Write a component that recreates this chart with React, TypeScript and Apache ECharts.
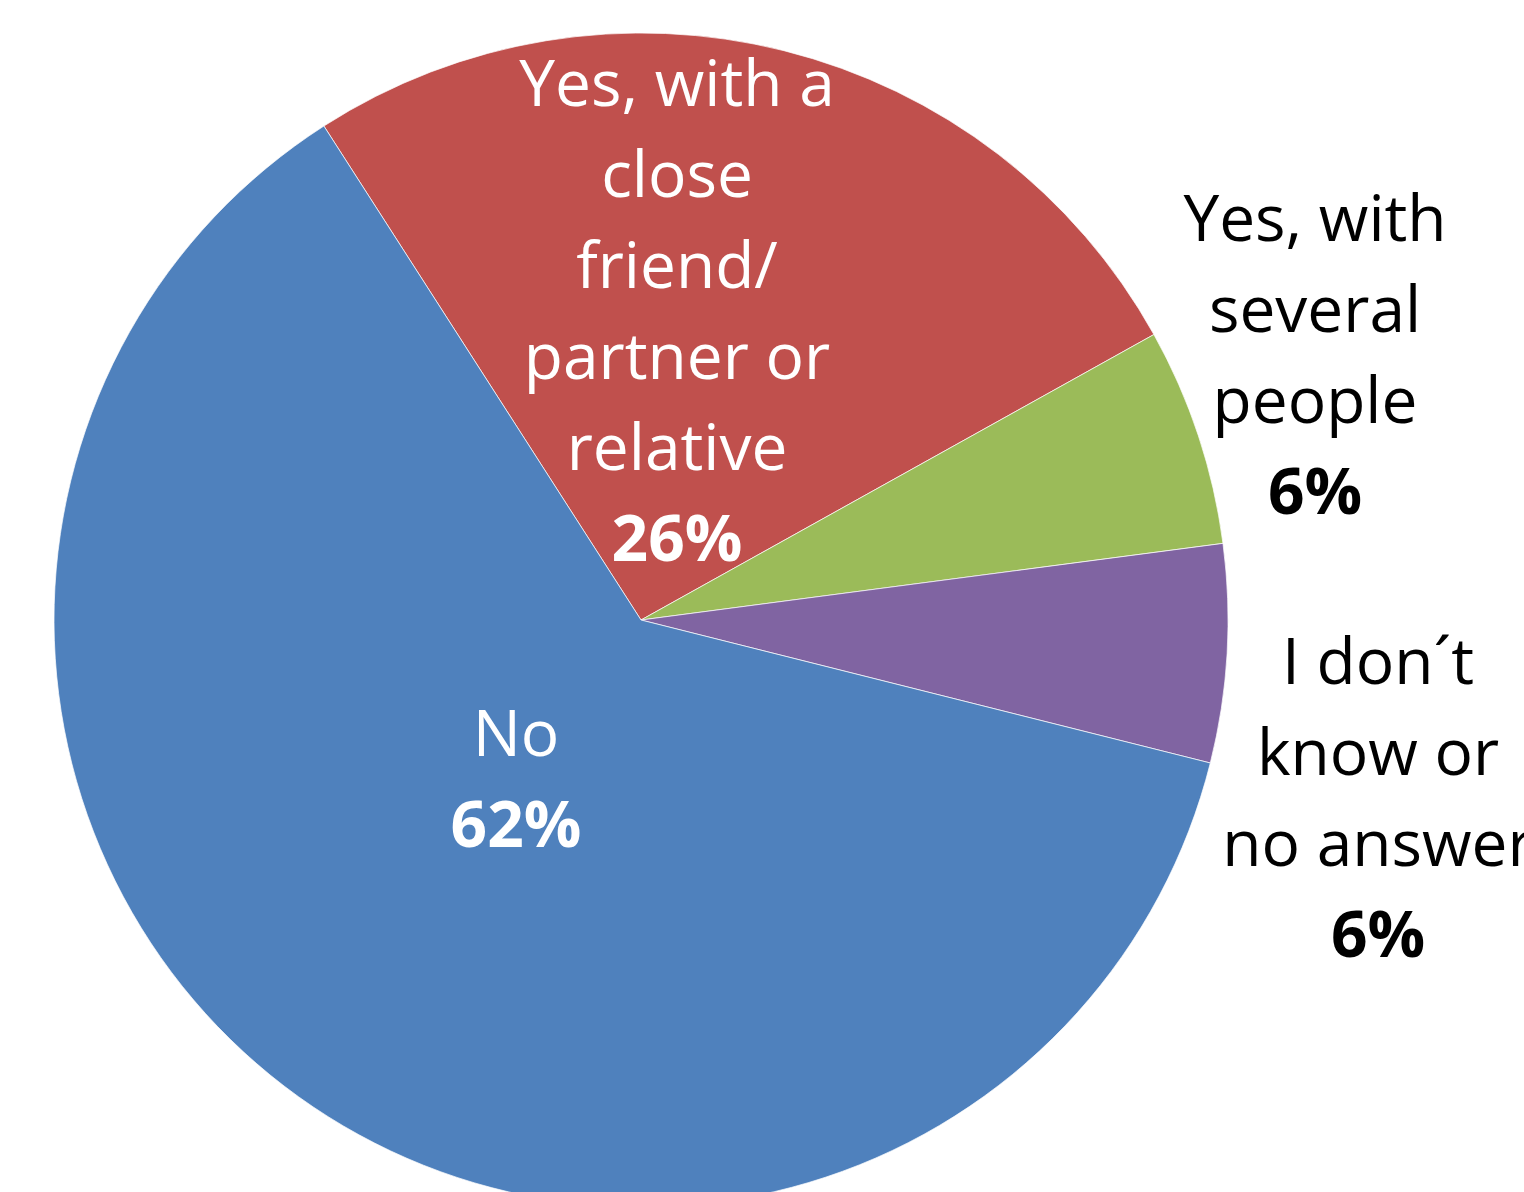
import React, { useEffect, useRef } from "react";
import * as echarts from "echarts";

const categories = [
  "Yes, with a close friend/ partner or relative",
  "Yes, with several people",
  "I don´t know or no answer",
  "No",
];
const values = [26, 6, 6, 62];
const labelLines = [
  ["Yes, with a", "close", "friend/", "partner or", "relative"],
  ["Yes, with", "several", "people"],
  ["I don´t", "know or", "no answer"],
  ["No"],
];
const percentLabels = ["26%", "6%", "6%", "62%"];
const colors = ["#C0504D", "#9BBB59", "#8064A2", "#4F81BD"];
const textColors = ["#ffffff", "#000000", "#000000", "#ffffff"];
const labelCenters = [
  [677, 309],
  [1315, 353],
  [1378, 796],
  [516, 777],
];

export default function App() {
  const ref = useRef<HTMLDivElement>(null);
  useEffect(() => {
    if (!ref.current) return;
    const chart = echarts.init(ref.current, null, { renderer: "svg" });
    const font = "'Open Sans', 'Noto Sans', sans-serif";
    const data = categories.map((name, i) => ({
      name,
      value: values[i],
      itemStyle: { color: colors[i] },
      label: {
        formatter: () =>
          labelLines[i].map((l) => `{n|${l}}`).join("\n") + `\n{p|${percentLabels[i]}}`,
        rich: {
          n: {
            fontFamily: font,
            fontSize: 64,
            lineHeight: 91,
            color: textColors[i],
            align: "center",
          },
          p: {
            fontFamily: font,
            fontSize: 64,
            fontWeight: "bold",
            lineHeight: 91,
            color: textColors[i],
            align: "center",
          },
        },
      },
    }));
    chart.setOption({
      animation: false,
      backgroundColor: "#ffffff",
      series: [
        {
          type: "pie",
          center: [641, 620],
          radius: 587,
          startAngle: 122.7,
          clockwise: true,
          avoidLabelOverlap: false,
          itemStyle: { borderColor: "#ffffff", borderWidth: 0.7 },
          label: { show: true, position: "inside" },
          labelLine: { show: false },
          emphasis: { disabled: true },
          labelLayout: (params: any) => {
            const c = labelCenters[params.dataIndex];
            return { x: c[0], y: c[1], align: "center", verticalAlign: "middle" };
          },
          data,
        },
      ],
    });
    return () => chart.dispose();
  }, []);
  return (
    <div
      ref={ref}
      style={{ position: "fixed", left: 0, top: 0, width: 1524, height: 1192 }}
    />
  );
}
